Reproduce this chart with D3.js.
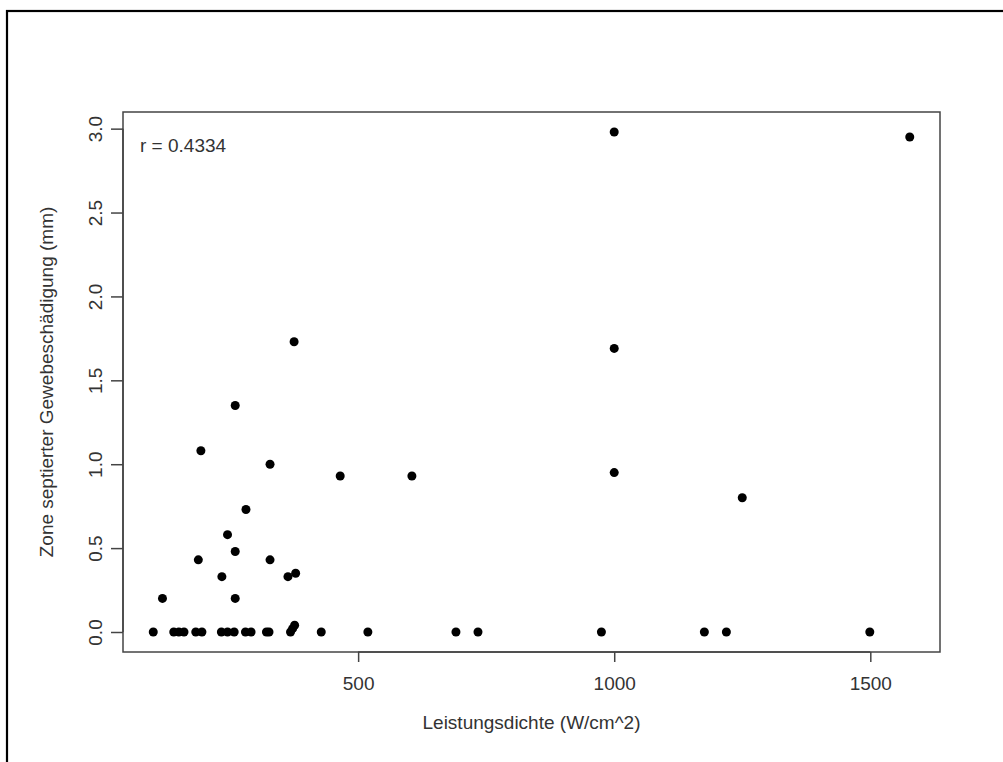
<!DOCTYPE html>
<html>
<head>
<meta charset="utf-8">
<script src="https://cdn.jsdelivr.net/npm/d3@7"></script>
<style>
  html, body { margin: 0; padding: 0; background: #fff; }
  svg { display: block; }
  text { font-family: "Liberation Sans", Arial, sans-serif; fill: #333; }
</style>
</head>
<body>
<svg id="chart" width="1003" height="762"></svg>
<script>
// ---- data ----
const powerDensity = [
  100, 140, 150, 160, 183, 195, 233, 245, 258, 280, 291, 321, 326, 368, 428, 519,
  691, 734, 975, 1176, 1219, 1499,
  372, 376,
  118, 260,
  234, 363, 378,
  188, 328,
  260, 245, 281,
  328, 193, 260, 375,
  465, 605,
  1000, 1000, 1000, 1250, 1577
];
const damageZone = [
  0, 0, 0, 0, 0, 0, 0, 0, 0, 0, 0, 0, 0, 0, 0, 0,
  0, 0, 0, 0, 0, 0,
  0.02, 0.04,
  0.20, 0.20,
  0.33, 0.33, 0.35,
  0.43, 0.43,
  0.48, 0.58, 0.73,
  1.00, 1.08, 1.35, 1.73,
  0.93, 0.93,
  2.98, 1.69, 0.95, 0.80, 2.95
];
const xTicks = [500, 1000, 1500];
const yTicks = [0, 0.5, 1.0, 1.5, 2.0, 2.5, 3.0];
const xTitle = "Leistungsdichte (W/cm^2)";
const yTitle = "Zone septierter Gewebeschädigung (mm)";
const annotation = "r = 0.4334";

// ---- layout ----
const svg = d3.select("#chart");
const box = { left: 123, right: 940, top: 112, bottom: 652 };
const FS = 19;

// R-style 4% axis padding
function padded(ext) {
  const d = ext[1] - ext[0];
  return [ext[0] - 0.04 * d, ext[1] + 0.04 * d];
}
const x = d3.scaleLinear().domain(padded(d3.extent(powerDensity))).range([box.left, box.right]);
const y = d3.scaleLinear().domain(padded(d3.extent(damageZone))).range([box.bottom, box.top]);

svg.append("rect").attr("width", 1003).attr("height", 762).attr("fill", "#fff");

// outer frame (runs off the right and bottom edges)
svg.append("rect")
  .attr("x", 7).attr("y", 11).attr("width", 1010).attr("height", 800)
  .attr("fill", "none").attr("stroke", "#000").attr("stroke-width", 2.2);

// plot box
svg.append("rect")
  .attr("x", box.left).attr("y", box.top)
  .attr("width", box.right - box.left).attr("height", box.bottom - box.top)
  .attr("fill", "none").attr("stroke", "#444").attr("stroke-width", 1.5);

// x axis
const xAxis = svg.append("g")
  .attr("transform", `translate(0,${box.bottom})`)
  .call(d3.axisBottom(x).tickValues(xTicks).tickSize(10).tickPadding(0).tickFormat(d3.format("d")));
xAxis.select(".domain").remove();
xAxis.selectAll(".tick line").attr("stroke", "#444").attr("stroke-width", 1.5);
xAxis.selectAll(".tick text")
  .attr("y", 38).attr("dy", null)
  .style("font-size", FS + "px").style("font-family", "Liberation Sans, Arial, sans-serif")
  .attr("fill", "#333");
svg.append("line")
  .attr("x1", x(xTicks[0])).attr("x2", x(xTicks[xTicks.length - 1]))
  .attr("y1", box.bottom).attr("y2", box.bottom)
  .attr("stroke", "#444").attr("stroke-width", 1.5);

// y axis
const yAxis = svg.append("g")
  .attr("transform", `translate(${box.left},0)`)
  .call(d3.axisLeft(y).tickValues(yTicks).tickSize(12).tickPadding(0).tickFormat(d3.format(".1f")));
yAxis.select(".domain").remove();
yAxis.selectAll(".tick line").attr("stroke", "#444").attr("stroke-width", 1.5);
yAxis.selectAll(".tick text")
  .attr("x", null).attr("dy", null)
  .attr("text-anchor", "middle")
  .attr("transform", "translate(-21,0) rotate(-90)")
  .style("font-size", FS + "px").style("font-family", "Liberation Sans, Arial, sans-serif")
  .attr("fill", "#333");
svg.append("line")
  .attr("x1", box.left).attr("x2", box.left)
  .attr("y1", y(yTicks[0])).attr("y2", y(yTicks[yTicks.length - 1]))
  .attr("stroke", "#444").attr("stroke-width", 1.5);

// axis titles
svg.append("text")
  .attr("x", (box.left + box.right) / 2).attr("y", 729)
  .attr("text-anchor", "middle").style("font-size", FS + "px")
  .text(xTitle);
svg.append("text")
  .attr("transform", `translate(53,${(box.top + box.bottom) / 2}) rotate(-90)`)
  .attr("text-anchor", "middle").style("font-size", FS + "px")
  .text(yTitle);

// annotation
svg.append("text")
  .attr("x", 140).attr("y", 152)
  .style("font-size", FS + "px")
  .text(annotation);

// points
const pts = powerDensity.map((v, i) => ({ px: v, dz: damageZone[i] }));
svg.append("g").selectAll("circle")
  .data(pts).join("circle")
  .attr("cx", d => x(d.px)).attr("cy", d => y(d.dz))
  .attr("r", 4.5).attr("fill", "#000");
</script>
</body>
</html>
